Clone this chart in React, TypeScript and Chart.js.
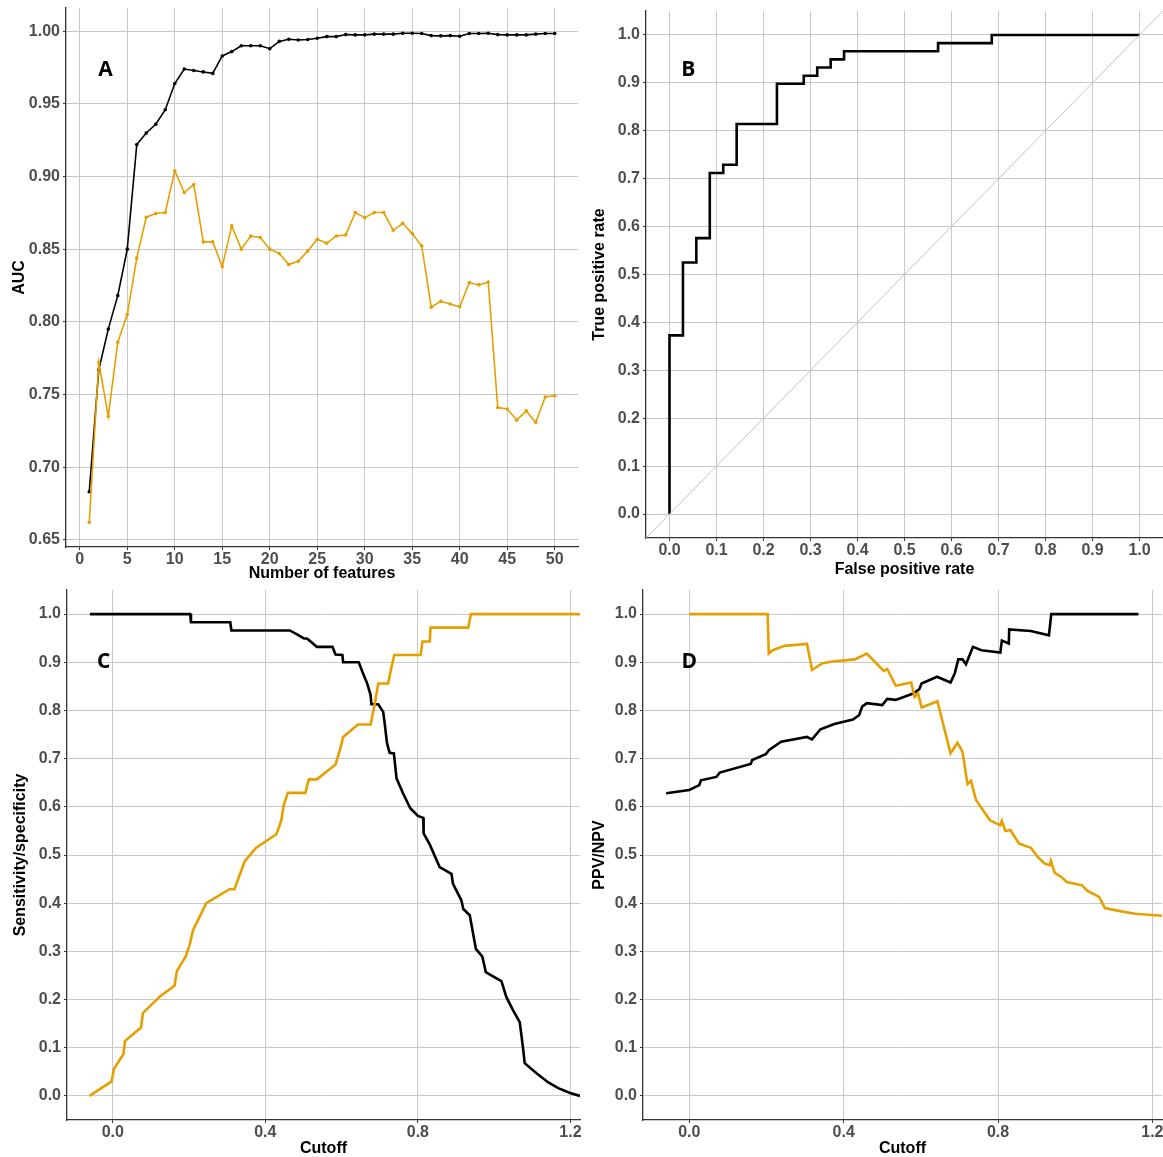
import React, { useEffect, useRef } from "react";
import { Chart, registerables } from "chart.js";
Chart.register(...registerables);

// ---------- Panel A: AUC vs number of features ----------
const featureCounts = [
  1, 2, 3, 4, 5, 6, 7, 8, 9, 10, 11, 12, 13, 14, 15, 16, 17, 18, 19, 20, 21, 22, 23, 24, 25,
  26, 27, 28, 29, 30, 31, 32, 33, 34, 35, 36, 37, 38, 39, 40, 41, 42, 43, 44, 45, 46, 47, 48, 49, 50,
];
const aucTrain = [
  0.683, 0.767, 0.795, 0.818, 0.85, 0.922, 0.93, 0.936, 0.946, 0.964, 0.974, 0.973, 0.972, 0.971, 0.983,
  0.986, 0.99, 0.99, 0.99, 0.988, 0.993, 0.9945, 0.994, 0.9943, 0.9952, 0.9963, 0.9963, 0.9977, 0.9975,
  0.9975, 0.998, 0.998, 0.998, 0.9986, 0.9986, 0.9984, 0.997, 0.9968, 0.997, 0.9966, 0.9984, 0.9984,
  0.9986, 0.9977, 0.9975, 0.9975, 0.9975, 0.998, 0.9984, 0.9984,
];
const aucTest = [
  0.662, 0.772, 0.735, 0.786, 0.805, 0.844, 0.872, 0.8745, 0.8752, 0.904, 0.889, 0.8945, 0.855, 0.855,
  0.838, 0.866, 0.85, 0.859, 0.858, 0.85, 0.847, 0.8394, 0.8417, 0.8488, 0.8568, 0.8541, 0.8591, 0.8598,
  0.8752, 0.8717, 0.8752, 0.8752, 0.863, 0.8678, 0.8607, 0.8522, 0.81, 0.8141, 0.8123, 0.8104, 0.827,
  0.8254, 0.8274, 0.741, 0.74, 0.7323, 0.7387, 0.7307, 0.7482, 0.7491,
];
const aTicksX = [0, 5, 10, 15, 20, 25, 30, 35, 40, 45, 50];
const aTicksY = [0.65, 0.7, 0.75, 0.8, 0.85, 0.9, 0.95, 1.0];

// ---------- Panel B: ROC curve (corner points) ----------
const rocFpr = [
  0, 0, 0.0286, 0.0286, 0.0571, 0.0571, 0.0857, 0.0857, 0.1143, 0.1143, 0.1429, 0.1429, 0.2286, 0.2286,
  0.2857, 0.2857, 0.3143, 0.3143, 0.3429, 0.3429, 0.3714, 0.3714, 0.5714, 0.5714, 0.6857, 0.6857, 1.0,
];
const rocTpr = [
  0, 0.373, 0.373, 0.525, 0.525, 0.576, 0.576, 0.712, 0.712, 0.729, 0.729, 0.814, 0.814, 0.898, 0.898,
  0.915, 0.915, 0.932, 0.932, 0.949, 0.949, 0.966, 0.966, 0.983, 0.983, 1.0, 1.0,
];
const diagX = [-0.05, 1.05];
const diagY = [-0.05, 1.05];
const bTicks = [0, 0.1, 0.2, 0.3, 0.4, 0.5, 0.6, 0.7, 0.8, 0.9, 1.0];

// ---------- Panel C: sensitivity / specificity vs cutoff ----------
const cSpecCutoff = [
  -0.06, 0.203, 0.205, 0.308, 0.311, 0.464, 0.483, 0.5, 0.51, 0.535, 0.576, 0.584, 0.602, 0.604, 0.645,
  0.656, 0.667, 0.676, 0.678, 0.696, 0.709, 0.713, 0.719, 0.726, 0.737, 0.744, 0.761, 0.78, 0.8, 0.814,
  0.815, 0.831, 0.857, 0.888, 0.892, 0.914, 0.919, 0.936, 0.952, 0.969, 0.978, 0.997, 1.019, 1.032, 1.05,
  1.067, 1.076, 1.08, 1.111, 1.142, 1.168, 1.199, 1.225,
];
const cSpec = [
  1.0, 1.0, 0.983, 0.983, 0.966, 0.966, 0.958, 0.95, 0.949, 0.932, 0.932, 0.916, 0.915, 0.9, 0.9, 0.877,
  0.856, 0.832, 0.813, 0.813, 0.797, 0.773, 0.732, 0.712, 0.711, 0.659, 0.628, 0.597, 0.581, 0.577, 0.545,
  0.522, 0.475, 0.461, 0.44, 0.406, 0.388, 0.375, 0.305, 0.289, 0.257, 0.248, 0.238, 0.205, 0.177, 0.153,
  0.097, 0.068, 0.047, 0.028, 0.016, 0.006, 0.0,
];
const cSensCutoff = [
  -0.061, -0.003, 0.003, 0.028, 0.032, 0.074, 0.079, 0.123, 0.162, 0.168, 0.191, 0.201, 0.21, 0.245, 0.306,
  0.319, 0.346, 0.376, 0.429, 0.442, 0.448, 0.459, 0.505, 0.514, 0.535, 0.584, 0.595, 0.604, 0.643, 0.676,
  0.687, 0.696, 0.722, 0.73, 0.738, 0.807, 0.812, 0.831, 0.833, 0.932, 0.939, 1.225,
];
const cSens = [
  0.0, 0.03, 0.056, 0.087, 0.114, 0.142, 0.172, 0.206, 0.229, 0.259, 0.289, 0.312, 0.343, 0.4, 0.429, 0.429,
  0.487, 0.515, 0.543, 0.572, 0.603, 0.629, 0.629, 0.657, 0.657, 0.688, 0.716, 0.745, 0.771, 0.771, 0.814,
  0.856, 0.856, 0.887, 0.915, 0.915, 0.943, 0.943, 0.972, 0.972, 1.0, 1.0,
];
const cutoffTicks = [0, 0.4, 0.8, 1.2];
const unitTicks = [0, 0.1, 0.2, 0.3, 0.4, 0.5, 0.6, 0.7, 0.8, 0.9, 1.0];

// ---------- Panel D: PPV / NPV vs cutoff ----------
const dPpvCutoff = [
  -0.06, 0.0, 0.026, 0.03, 0.07, 0.079, 0.159, 0.163, 0.198, 0.207, 0.238, 0.305, 0.318, 0.34, 0.376, 0.424,
  0.44, 0.448, 0.46, 0.5, 0.513, 0.535, 0.58, 0.596, 0.602, 0.642, 0.677, 0.688, 0.697, 0.708, 0.717, 0.735,
  0.757, 0.806, 0.81, 0.828, 0.829, 0.885, 0.932, 0.938, 1.164,
];
const dPpv = [
  0.628, 0.635, 0.645, 0.655, 0.662, 0.671, 0.689, 0.697, 0.709, 0.718, 0.735, 0.745, 0.74, 0.761, 0.772,
  0.781, 0.79, 0.808, 0.815, 0.811, 0.824, 0.822, 0.835, 0.844, 0.856, 0.87, 0.858, 0.877, 0.906, 0.906,
  0.896, 0.932, 0.925, 0.92, 0.945, 0.939, 0.968, 0.965, 0.956, 1.0, 1.0,
];
const dNpvCutoff = [
  0.0, 0.203, 0.206, 0.216, 0.247, 0.305, 0.318, 0.345, 0.376, 0.429, 0.46, 0.504, 0.513, 0.535, 0.575, 0.584,
  0.593, 0.602, 0.643, 0.677, 0.695, 0.708, 0.721, 0.73, 0.743, 0.779, 0.806, 0.81, 0.819, 0.832, 0.854,
  0.885, 0.903, 0.921, 0.934, 0.937, 0.947, 0.965, 0.978, 1.018, 1.031, 1.062, 1.077, 1.12, 1.155, 1.226,
];
const dNpv = [
  1.0, 1.0, 0.918, 0.925, 0.934, 0.938, 0.884, 0.898, 0.902, 0.906, 0.918, 0.882, 0.886, 0.851, 0.858, 0.828,
  0.835, 0.806, 0.819, 0.711, 0.733, 0.714, 0.647, 0.654, 0.614, 0.572, 0.562, 0.571, 0.55, 0.552, 0.524,
  0.515, 0.496, 0.482, 0.479, 0.488, 0.463, 0.454, 0.444, 0.437, 0.426, 0.413, 0.39, 0.383, 0.378, 0.374,
];

// ---------- styling ----------
const ORANGE = "#E69F00";
const BLACK = "#000000";
const GRID = "#c8c8c8";
const TICK_COLOR = "#4d4d4d";
const FONT = "'Liberation Sans', Arial, sans-serif";

const zip = (xs: number[], ys: number[]) => xs.map((x, i) => ({ x, y: ys[i] }));

type AxisSpec = {
  min: number;
  max: number;
  ticks: number[];
  decimals: number;
  title: string;
  size: number;
  titlePad: number;
};

function axis(spec: AxisSpec, isX: boolean) {
  return {
    type: "linear",
    position: isX ? "bottom" : "left",
    min: spec.min,
    max: spec.max,
    afterBuildTicks: (s: any) => {
      s.ticks = spec.ticks.map((v) => ({ value: v }));
    },
    afterFit: (s: any) => {
      if (isX) s.height = spec.size;
      else s.width = spec.size;
      s.paddingTop = 0;
      s.paddingBottom = 0;
      s.paddingLeft = 0;
      s.paddingRight = 0;
    },
    ticks: {
      autoSkip: false,
      maxRotation: 0,
      color: TICK_COLOR,
      font: { family: FONT, size: 16, weight: "bold" },
      padding: isX ? 0 : 3,
      callback: (v: any) => Number(v).toFixed(spec.decimals),
    },
    grid: { color: GRID, lineWidth: 1, drawTicks: true, tickLength: 3, tickColor: "#333333" },
    border: { display: true, color: "#333333", width: 1.3 },
    title: {
      display: true,
      text: spec.title,
      color: "#000000",
      font: { family: FONT, size: 16, weight: "bold", lineHeight: 1 },
      padding: isX ? { top: 0, bottom: spec.titlePad } : { top: spec.titlePad, bottom: 0 },
    },
  };
}

type PanelCfg = {
  left: number;
  top: number;
  width: number;
  height: number;
  padding: { top: number; right: number; left: number; bottom: number };
  x: AxisSpec;
  y: AxisSpec;
  datasets: any[];
  label: { text: string; x: number; y: number };
};

function Panel({ cfg }: { cfg: PanelCfg }) {
  const ref = useRef<HTMLCanvasElement | null>(null);
  useEffect(() => {
    if (!ref.current) return;
    const lab = cfg.label;
    const chart = new Chart(ref.current, {
      type: "line",
      data: { datasets: cfg.datasets },
      options: {
        animation: false,
        responsive: false,
        devicePixelRatio: 1,
        layout: { padding: cfg.padding },
        plugins: { legend: { display: false }, tooltip: { enabled: false } },
        elements: { line: { tension: 0 } },
        scales: { x: axis(cfg.x, true) as any, y: axis(cfg.y, false) as any },
      },
      plugins: [
        {
          id: "panelLabel",
          afterDraw(c: any) {
            const ctx = c.ctx;
            const px = c.scales.x.getPixelForValue(lab.x);
            const py = c.scales.y.getPixelForValue(lab.y);
            ctx.save();
            ctx.font = "bold 21px 'Open Sans', sans-serif";
            ctx.fillStyle = "#000";
            ctx.textAlign = "center";
            ctx.textBaseline = "middle";
            ctx.fillText(lab.text, px, py);
            ctx.restore();
          },
        },
      ],
    } as any);
    return () => chart.destroy();
  }, [cfg]);
  return (
    <canvas
      ref={ref}
      width={cfg.width}
      height={cfg.height}
      style={{ position: "absolute", left: cfg.left, top: cfg.top, width: cfg.width, height: cfg.height }}
    />
  );
}

const lineDs = (data: any[], color: string, width: number, pointRadius = 0) => ({
  data,
  borderColor: color,
  backgroundColor: color,
  borderWidth: width,
  pointRadius,
  pointBorderWidth: 0,
  pointBackgroundColor: color,
  fill: false,
});

const panels: PanelCfg[] = [
  {
    left: 0,
    top: 0,
    width: 582,
    height: 585,
    padding: { top: 8, right: 2, left: 0, bottom: 0 },
    x: { min: -1.45, max: 52.45, ticks: aTicksX, decimals: 0, title: "Number of features", size: 38, titlePad: 3 },
    y: { min: 0.645, max: 1.016, ticks: aTicksY, decimals: 2, title: "AUC", size: 66, titlePad: 12 },
    datasets: [
      lineDs(zip(featureCounts, aucTest), ORANGE, 1.6, 1.8),
      lineDs(zip(featureCounts, aucTrain), BLACK, 1.6, 1.8),
    ],
    label: { text: "A", x: 2.7, y: 0.973 },
  },
  {
    left: 582,
    top: 0,
    width: 581,
    height: 582,
    padding: { top: 11, right: 0, left: 0, bottom: 0 },
    x: { min: -0.05, max: 1.05, ticks: bTicks, decimals: 1, title: "False positive rate", size: 44, titlePad: 4 },
    y: { min: -0.05, max: 1.05, ticks: bTicks, decimals: 1, title: "True positive rate", size: 64, titlePad: 10 },
    datasets: [lineDs(zip(diagX, diagY), "#c4c4c4", 1), lineDs(zip(rocFpr, rocTpr), BLACK, 2.6)],
    label: { text: "B", x: 0.04, y: 0.927 },
  },
  {
    left: 0,
    top: 585,
    width: 582,
    height: 572,
    padding: { top: 5, right: 2, left: 0, bottom: 0 },
    x: { min: -0.12, max: 1.225, ticks: cutoffTicks, decimals: 1, title: "Cutoff", size: 37, titlePad: 0 },
    y: { min: -0.05, max: 1.05, ticks: unitTicks, decimals: 1, title: "Sensitivity/specificity", size: 67, titlePad: 13 },
    datasets: [
      lineDs(zip(cSensCutoff, cSens), ORANGE, 2.6),
      lineDs(zip(cSpecCutoff, cSpec), BLACK, 2.6),
    ],
    label: { text: "C", x: -0.024, y: 0.9 },
  },
  {
    left: 582,
    top: 585,
    width: 581,
    height: 572,
    padding: { top: 5, right: 1, left: 0, bottom: 0 },
    x: { min: -0.12, max: 1.225, ticks: cutoffTicks, decimals: 1, title: "Cutoff", size: 37, titlePad: 0 },
    y: { min: -0.05, max: 1.05, ticks: unitTicks, decimals: 1, title: "PPV/NPV", size: 61, titlePad: 10 },
    datasets: [
      lineDs(zip(dNpvCutoff, dNpv), ORANGE, 2.6),
      lineDs(zip(dPpvCutoff, dPpv), BLACK, 2.6),
    ],
    label: { text: "D", x: 0.0, y: 0.9 },
  },
];

export default function App() {
  return (
    <div
      style={{
        position: "absolute",
        left: 0,
        top: 0,
        width: 1163,
        height: 1157,
        background: "#ffffff",
        overflow: "hidden",
      }}
    >
      {panels.map((p, i) => (
        <Panel key={i} cfg={p} />
      ))}
    </div>
  );
}
